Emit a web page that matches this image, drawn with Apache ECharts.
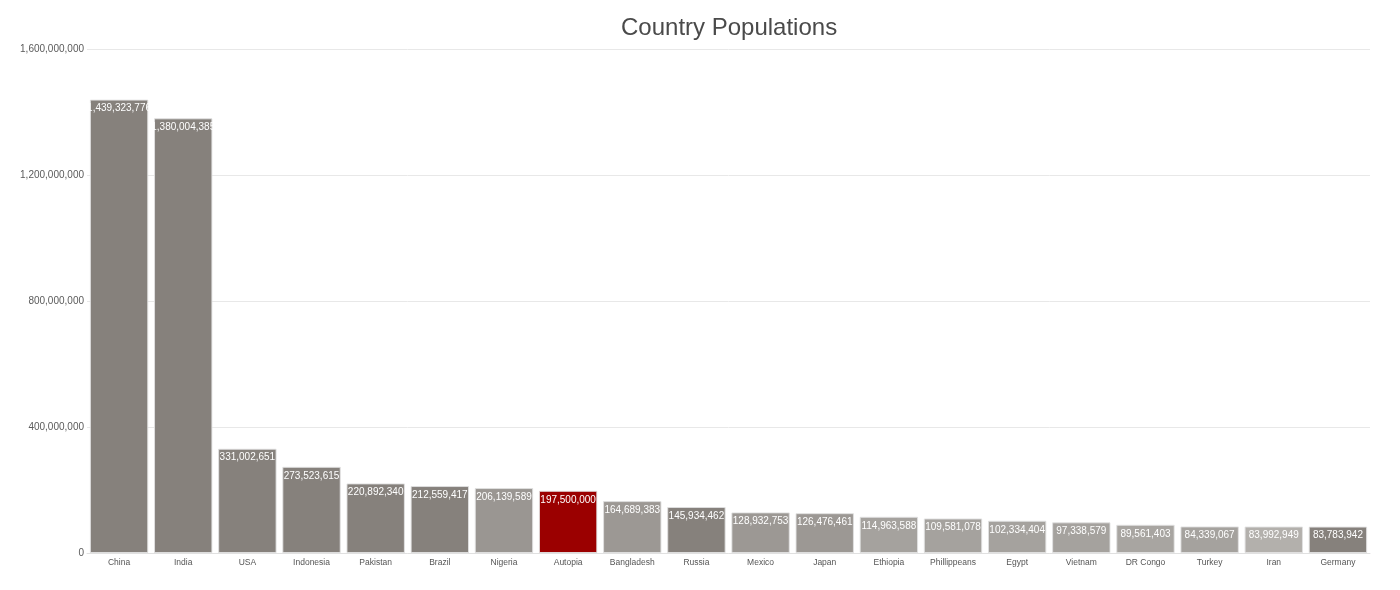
<!DOCTYPE html>
<html>
<head>
<meta charset="utf-8">
<script src="https://cdn.jsdelivr.net/npm/echarts@6/dist/echarts.min.js"></script>
<style>html,body{margin:0;padding:0;background:#fff;}#c{width:1400px;height:590px;}</style>
</head>
<body>
<div id="c"></div>
<script>
const categories = ["China","India","USA","Indonesia","Pakistan","Brazil","Nigeria","Autopia","Bangladesh","Russia","Mexico","Japan","Ethiopia","Phillippeans","Egypt","Vietnam","DR Congo","Turkey","Iran","Germany"];
const populations = [1439323776,1380004385,331002651,273523615,220892340,212559417,206139589,197500000,164689383,145934462,128932753,126476461,114963588,109581078,102334404,97338579,89561403,84339067,83992949,83783942];
const barColors = ["#86817c","#86817c","#86817c","#86817c","#86817c","#86817c","#9a9692","#9b0000","#9c9894","#86817c","#9c9894","#9c9894","#a5a29e","#a5a29e","#a5a29e","#a5a29e","#a8a5a1","#a5a29e","#b3b0ac","#86817c"];
const yTicks = [0,400000000,800000000,1200000000,1600000000];

const font = "'Helvetica Neue', Helvetica, 'Liberation Sans', Arial, sans-serif";
const fmt = v => v.toLocaleString('en-US');
const chart = echarts.init(document.getElementById('c'));
chart.setOption({
  animation: false,
  title: {
    text: 'Country Populations', left: 616, top: 11,
    textStyle: {fontFamily: font, fontSize: 24, fontWeight: 500, color: '#4a4a4a'}
  },
  grid: {left: 87, right: 30, top: 49, bottom: 37},
  xAxis: {
    type: 'category', data: categories,
    axisLine: {lineStyle: {color: '#e0e0e0'}},
    axisTick: {show: false},
    axisLabel: {fontFamily: font, fontSize: 8.5, color: '#555', margin: 5}
  },
  yAxis: {
    type: 'value', min: yTicks[0], max: yTicks[yTicks.length-1], interval: 400000000,
    axisLine: {show: false}, axisTick: {show: false},
    splitLine: {lineStyle: {color: '#e8e8e8'}},
    axisLabel: {fontFamily: font, fontSize: 10, color: '#5a5a5a', margin: 3, formatter: fmt}
  },
  series: [{
    type: 'bar',
    data: populations.map((v, i) => ({value: v, itemStyle: {color: barColors[i]}})),
    barCategoryGap: '9%',
    itemStyle: {borderColor: 'rgba(225,225,225,0.9)', borderWidth: 1},
    label: {
      show: true, position: 'insideTop', distance: 4,
      fontFamily: font, fontSize: 10, color: '#fff',
      formatter: p => fmt(p.value)
    }
  }]
});
</script>
</body>
</html>
